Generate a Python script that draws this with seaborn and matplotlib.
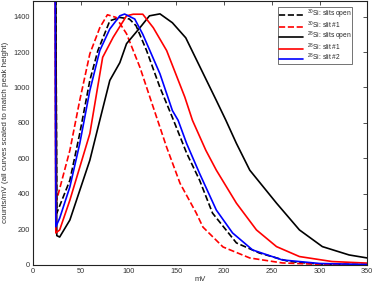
import matplotlib
matplotlib.use("Agg")
import matplotlib.pyplot as plt
import numpy as np
import pandas as pd
import seaborn as sns

# 30Si: slits open (black dashed)
mv_30_open = [22, 25, 38.7, 49, 59.6, 68, 80.5, 91, 101, 108, 119, 133, 146, 161, 174.5, 188, 213, 237, 268, 300, 350]
val_30_open = [4000, 292, 477, 740, 1040, 1208, 1376, 1395, 1386, 1348, 1208, 1000, 831, 629, 477, 292, 124, 67, 19, 5, 2]

# 30Si: slit #1 (red dashed)
mv_30_s1 = [22, 24, 38.7, 49, 59.6, 70, 78, 87, 98, 112, 126, 140, 154, 171, 178, 199, 227, 261, 300, 350]
val_30_s1 = [4000, 348, 646, 927, 1190, 1337, 1410, 1395, 1303, 1114, 888, 663, 460, 292, 213, 101, 39, 11, 3, 1]

# 28Si: slits open (black solid)
mv_28_open = [22, 25, 28, 38.7, 59.6, 70, 80.5, 91, 98, 112, 122, 133, 146, 160, 174.5, 192, 202, 213, 227, 255, 279, 303, 331, 350]
val_28_open = [4000, 165, 157, 253, 590, 815, 1040, 1140, 1247, 1337, 1404, 1415, 1365, 1280, 1120, 927, 815, 685, 534, 348, 197, 103, 56, 39]

# 28Si: slit #1 (red solid)
mv_28_s1 = [22, 24, 28, 38.7, 59.6, 73, 84, 98, 105, 115, 126, 140, 159, 167, 181, 192, 213, 234, 255, 279, 313, 350]
val_28_s1 = [4000, 180, 197, 365, 740, 1170, 1283, 1404, 1413, 1413, 1337, 1208, 946, 815, 646, 534, 348, 197, 103, 47, 19, 10]

# 28Si: slit #2 (blue solid)
mv_28_s2 = [22, 24, 28, 38.7, 49, 59.6, 70, 80.5, 91, 96, 106.6, 115, 133, 146, 152, 161, 174.5, 192, 209, 230, 261, 300, 350]
val_28_s2 = [4000, 215, 263, 440, 683, 983, 1208, 1330, 1404, 1414, 1386, 1300, 1077, 870, 815, 683, 515, 309, 180, 84, 28, 8, 2]

series = [
    (r"$^{30}$Si: slits open", mv_30_open, val_30_open, "black", "--"),
    (r"$^{30}$Si: slit #1", mv_30_s1, val_30_s1, "red", "--"),
    (r"$^{28}$Si: slits open", mv_28_open, val_28_open, "black", "-"),
    (r"$^{28}$Si: slit #1", mv_28_s1, val_28_s1, "red", "-"),
    (r"$^{28}$Si: slit #2", mv_28_s2, val_28_s2, "blue", "-"),
]

sns.set_style("white")
plt.rcParams["font.family"] = ["Liberation Sans", "DejaVu Sans"]
plt.rcParams["mathtext.fontset"] = "custom"
plt.rcParams["mathtext.rm"] = "Liberation Sans"

fig = plt.figure(figsize=(3.74, 2.83), dpi=100)
ax = fig.add_axes([0.088, 0.064, 0.894, 0.934])

for label, mv, val, color, ls in series:
    df = pd.DataFrame({"mV": mv, "counts": val})
    sns.lineplot(data=df, x="mV", y="counts", ax=ax, color=color, linestyle=ls,
                 linewidth=1.2, label=label, sort=False, estimator=None)

ax.set_xlim(0, 350)
ax.set_ylim(0, 1490)
ax.set_xticks(np.arange(0, 351, 50))
ax.set_yticks(np.arange(0, 1401, 200))
ax.tick_params(direction="in", length=3, width=0.6, labelsize=5.3, colors="#333333",
               top=True, right=True, pad=2)
for sp in ax.spines.values():
    sp.set_linewidth(0.8)
    sp.set_color("#222222")
ax.set_xlabel("mV", fontsize=5.5, labelpad=1, color="#333333")
ax.set_ylabel("counts/mV (all curves scaled to match peak height)", fontsize=5.8,
              labelpad=3, color="#333333")

leg = ax.legend(loc="upper right", fontsize=4.8, frameon=True, fancybox=False,
                edgecolor="#333333", borderpad=0.15, labelspacing=-0.2,
                handlelength=3.6, handletextpad=0.5, borderaxespad=0.0,
                handleheight=0.4, bbox_to_anchor=(0.955, 0.975))
leg.get_frame().set_linewidth(0.6)

fig.savefig("out.png", dpi=100)
